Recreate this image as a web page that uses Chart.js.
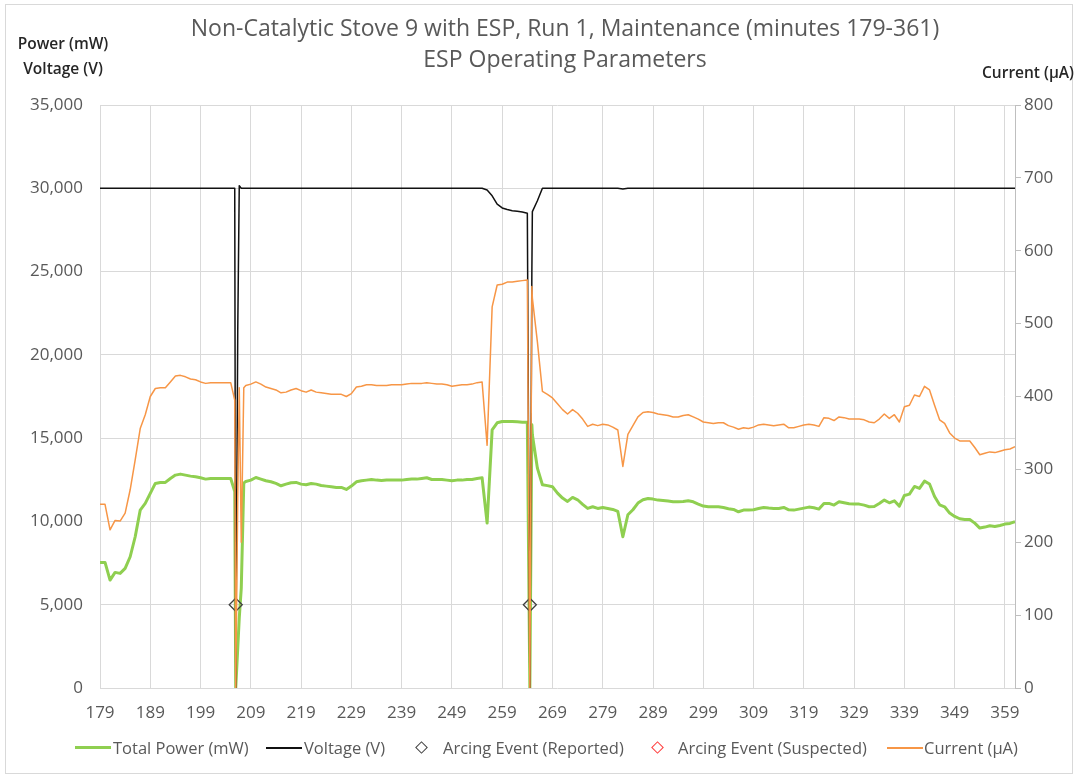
<!DOCTYPE html>
<html>
<head>
<meta charset="utf-8">
<script src="https://cdn.jsdelivr.net/npm/chart.js@4.4.0/dist/chart.umd.min.js"></script>
<style>
  body { margin: 0; background: #fff; font-family: 'Open Sans', sans-serif; }
  #wrap { position: relative; width: 1077px; height: 778px; overflow: hidden; }
  #frame { position: absolute; left: 5px; top: 4px; width: 1066px; height: 768px; border: 1px solid #d9d9d9; }
  canvas { position: absolute; left: 0; top: 0; }
  .t { position: absolute; white-space: nowrap; }
  .title { left: 165px; width: 800px; text-align: center; font-size: 23px; line-height: 28px; color: #595959; }
  .unit { font-size: 15.5px; line-height: 20px; font-weight: 600; color: #262626; }
  .leg { top: 737px; font-size: 16.5px; line-height: 22px; color: #595959; }
  .swatch { position: absolute; }
  .dia { position: absolute; width: 9px; height: 9px; transform: rotate(45deg); box-sizing: border-box; }
</style>
</head>
<body>
<div id="wrap">
  <div id="frame"></div>
  <canvas id="chart" width="1077" height="778"></canvas>
  <div class="t title" style="top:13px">Non-Catalytic Stove 9 with ESP, Run 1, Maintenance (minutes 179-361)</div>
  <div class="t title" style="top:44px">ESP Operating Parameters</div>
  <div class="t unit" style="left:3px;width:120px;text-align:center;top:33px">Power (mW)</div>
  <div class="t unit" style="left:3px;width:120px;text-align:center;top:58px">Voltage (V)</div>
  <div class="t unit" style="right:3px;top:62px">Current (µA)</div>

  <div class="swatch" style="left:75px;top:746px;width:36px;height:3px;background:#8fcf50"></div>
  <div class="t leg" style="left:113px">Total Power (mW)</div>
  <div class="swatch" style="left:266px;top:747px;width:36px;height:2px;background:#111"></div>
  <div class="t leg" style="left:304px">Voltage (V)</div>
  <div class="dia" style="left:417px;top:743px;border:1.3px solid #404040"></div>
  <div class="t leg" style="left:443px">Arcing Event (Reported)</div>
  <div class="dia" style="left:653px;top:743px;border:1.3px solid #ff3b3b"></div>
  <div class="t leg" style="left:678px">Arcing Event (Suspected)</div>
  <div class="swatch" style="left:887px;top:747px;width:36px;height:2px;background:#f79646"></div>
  <div class="t leg" style="left:924px">Current (µA)</div>
</div>
<script>
// minutes (sub-minute points only around the two arcing events)
const minutes = [
  179, 180, 181, 182, 183, 184, 185, 186, 187, 188,
  189, 190, 191, 192, 193, 194, 195, 196, 197, 198,
  199, 200, 201, 202, 203, 204, 205, 205.8, 206, 206.4, 206.7, 207.1, 207.6,
  208, 209, 210, 211, 212, 213, 214, 215, 216, 217,
  218, 219, 220, 221, 222, 223, 224, 225, 226, 227,
  228, 229, 230, 231, 232, 233, 234, 235, 236, 237,
  238, 239, 240, 241, 242, 243, 244, 245, 246, 247,
  248, 249, 250, 251, 252, 253, 254, 255, 256, 257,
  258, 259, 260, 261, 262, 263, 264, 264.5, 264.9,
  265, 266, 267, 268, 269, 270, 271, 272, 273, 274,
  275, 276, 277, 278, 279, 280, 281, 282, 283, 284,
  285, 286, 287, 288, 289, 290, 291, 292, 293, 294,
  295, 296, 297, 298, 299, 300, 301, 302, 303, 304,
  305, 306, 307, 308, 309, 310, 311, 312, 313, 314,
  315, 316, 317, 318, 319, 320, 321, 322, 323, 324,
  325, 326, 327, 328, 329, 330, 331, 332, 333, 334,
  335, 336, 337, 338, 339, 340, 341, 342, 343, 344,
  345, 346, 347, 348, 349, 350, 351, 352, 353, 354,
  355, 356, 357, 358, 359, 360, 361
];

const powerMw = [
  7540, 7540, 6480, 6940, 6880, 7180, 7880, 9080, 10680, 11080,
  11680, 12280, 12340, 12340, 12580, 12780, 12840, 12780, 12720, 12680,
  12620, 12540, 12580, 12580, 12580, 12580, 12580, 11800, 0, 2400, 4200, 6000, 12300,
  12400, 12480, 12640, 12540, 12440, 12380, 12280, 12140, 12240, 12320,
  12340, 12240, 12200, 12280, 12240, 12160, 12120, 12080, 12040, 12040,
  11920, 12120, 12380, 12440, 12480, 12520, 12480, 12460, 12480, 12480,
  12480, 12480, 12520, 12540, 12540, 12580, 12620, 12520, 12520, 12520,
  12480, 12440, 12480, 12480, 12520, 12520, 12580, 12620, 9900, 15500,
  15920, 16000, 16000, 16000, 15980, 15960, 15960, 0, 15800,
  15200, 13200, 12200, 12150, 12080, 11700, 11400, 11200, 11440, 11300,
  11020, 10780, 10880, 10780, 10840, 10780, 10720, 10600, 9080, 10400,
  10700, 11100, 11300, 11380, 11340, 11280, 11260, 11220, 11180, 11180,
  11200, 11240, 11180, 11040, 10920, 10880, 10880, 10880, 10840, 10760,
  10720, 10580, 10680, 10680, 10700, 10780, 10840, 10800, 10780, 10780,
  10840, 10700, 10680, 10740, 10800, 10860, 10820, 10740, 11080, 11080,
  10980, 11180, 11120, 11060, 11040, 11040, 10980, 10880, 10900, 11080,
  11280, 11120, 11240, 10920, 11560, 11640, 12100, 11980, 12420, 12250,
  11500, 11000, 10880, 10500, 10300, 10160, 10120, 10120, 9900, 9600,
  9660, 9740, 9700, 9760, 9840, 9880, 9980
];

const voltageV = [
  30000, 30000, 30000, 30000, 30000, 30000, 30000, 30000, 30000, 30000,
  30000, 30000, 30000, 30000, 30000, 30000, 30000, 30000, 30000, 30000,
  30000, 30000, 30000, 30000, 30000, 30000, 30000, 30000, 0, 21500, 30150, 30000, 30000,
  30000, 30000, 30000, 30000, 30000, 30000, 30000, 30000, 30000, 30000,
  30000, 30000, 30000, 30000, 30000, 30000, 30000, 30000, 30000, 30000,
  30000, 30000, 30000, 30000, 30000, 30000, 30000, 30000, 30000, 30000,
  30000, 30000, 30000, 30000, 30000, 30000, 30000, 30000, 30000, 30000,
  30000, 30000, 30000, 30000, 30000, 30000, 30000, 30000, 29900, 29550,
  29050, 28820, 28730, 28650, 28620, 28580, 28500, 0, 25000,
  28600, 29250, 30000, 30000, 30000, 30000, 30000, 30000, 30000, 30000,
  30000, 30000, 30000, 30000, 30000, 30000, 30000, 30000, 29960, 30000,
  30000, 30000, 30000, 30000, 30000, 30000, 30000, 30000, 30000, 30000,
  30000, 30000, 30000, 30000, 30000, 30000, 30000, 30000, 30000, 30000,
  30000, 30000, 30000, 30000, 30000, 30000, 30000, 30000, 30000, 30000,
  30000, 30000, 30000, 30000, 30000, 30000, 30000, 30000, 30000, 30000,
  30000, 30000, 30000, 30000, 30000, 30000, 30000, 30000, 30000, 30000,
  30000, 30000, 30000, 30000, 30000, 30000, 30000, 30000, 30000, 30000,
  30000, 30000, 30000, 30000, 30000, 30000, 30000, 30000, 30000, 30000,
  30000, 30000, 30000, 30000, 30000, 30000, 30000
];

const currentUA = [
  252, 252, 217, 230, 229, 240, 272, 313, 356, 375,
  400, 411, 412, 412, 420, 428, 429, 427, 424, 423,
  420, 418, 419, 419, 419, 419, 419, 395, 0, 260, 412, 200, 412,
  415, 417, 420, 417, 413, 411, 409, 405, 406, 409,
  411, 408, 406, 409, 406, 405, 404, 403, 403, 403,
  400, 404, 413, 414, 416, 416, 415, 415, 415, 416,
  416, 416, 417, 418, 418, 418, 419, 418, 417, 417,
  416, 414, 415, 416, 416, 417, 419, 420, 333, 523,
  553, 554, 557, 557, 558, 559, 560, 0, 551,
  535, 475, 407, 403, 398, 390, 382, 376, 382, 377,
  369, 359, 362, 360, 362, 361, 358, 354, 304, 348,
  360, 372, 378, 379, 378, 376, 375, 374, 372, 372,
  374, 375, 372, 369, 365, 364, 363, 364, 364, 360,
  358, 355, 357, 356, 358, 361, 362, 361, 360, 361,
  362, 357, 357, 359, 361, 362, 361, 359, 371, 370,
  367, 372, 371, 369, 369, 369, 368, 365, 364, 369,
  376, 370, 375, 365, 386, 388, 402, 400, 414, 409,
  388, 368, 363, 350, 343, 339, 339, 339, 330, 320,
  322, 324, 323, 325, 327, 328, 331
];

const arcReportedMinutes = [206, 264.5];
const arcReportedValues = [5000, 5000];
const arcSuspectedMinutes = [];
const arcSuspectedValues = [];

const xTicks = [179, 189, 199, 209, 219, 229, 239, 249, 259, 269, 279, 289, 299, 309, 319, 329, 339, 349, 359];

const pts = (xs, ys) => xs.map((m, i) => ({ x: m, y: ys[i] }));
const tickFont = { family: 'Open Sans', size: 17 };

var ctx = document.getElementById('chart').getContext('2d');
var myChart = new Chart(ctx, {
  type: 'line',
  data: {
    datasets: [
      {
        label: 'Total Power (mW)',
        data: pts(minutes, powerMw),
        yAxisID: 'y',
        borderColor: '#8fcf50',
        borderWidth: 3,
        borderJoinStyle: 'round',
        pointRadius: 0,
        order: 4
      },
      {
        label: 'Voltage (V)',
        data: pts(minutes, voltageV),
        yAxisID: 'y',
        borderColor: '#111111',
        borderWidth: 1.5,
        borderJoinStyle: 'round',
        pointRadius: 0,
        order: 3
      },
      {
        label: 'Arcing Event (Reported)',
        data: pts(arcReportedMinutes, arcReportedValues),
        yAxisID: 'y',
        showLine: false,
        pointStyle: 'rectRot',
        pointRadius: 6.5,
        pointBorderWidth: 1.3,
        pointBorderColor: '#404040',
        pointBackgroundColor: 'rgba(0,0,0,0)',
        order: 2
      },
      {
        label: 'Arcing Event (Suspected)',
        data: pts(arcSuspectedMinutes, arcSuspectedValues),
        yAxisID: 'y',
        showLine: false,
        pointStyle: 'rectRot',
        pointRadius: 6.5,
        pointBorderWidth: 1.3,
        pointBorderColor: '#ff3b3b',
        pointBackgroundColor: 'rgba(0,0,0,0)',
        order: 2
      },
      {
        label: 'Current (µA)',
        data: pts(minutes, currentUA),
        yAxisID: 'y1',
        borderColor: '#f79646',
        borderWidth: 1.5,
        borderJoinStyle: 'round',
        pointRadius: 0,
        order: 1
      }
    ]
  },
  options: {
    responsive: false,
    animation: false,
    devicePixelRatio: 1,
    layout: { padding: { top: 105, left: 0, right: 0, bottom: 0 } },
    plugins: {
      legend: { display: false },
      title: { display: false },
      tooltip: { enabled: false }
    },
    scales: {
      x: {
        type: 'linear',
        min: 179,
        max: 361,
        afterBuildTicks: axis => { axis.ticks = xTicks.map(v => ({ value: v })); },
        afterFit: axis => { axis.height = 90; },
        grid: { color: '#d9d9d9', drawTicks: false },
        border: { display: false },
        ticks: { autoSkip: false, maxRotation: 0, padding: 15, color: '#595959', font: tickFont }
      },
      y: {
        min: 0,
        max: 35000,
        afterFit: axis => { axis.width = 100; },
        grid: { color: '#d9d9d9', drawTicks: false },
        border: { display: false },
        ticks: {
          stepSize: 5000,
          padding: 17,
          color: '#595959',
          font: tickFont,
          callback: v => v.toLocaleString('en-US')
        }
      },
      y1: {
        position: 'right',
        min: 0,
        max: 800,
        afterFit: axis => { axis.width = 62; },
        grid: { drawOnChartArea: false, tickLength: 6, color: '#bfbfbf' },
        border: { color: '#bfbfbf' },
        ticks: { stepSize: 100, padding: 3, color: '#595959', font: tickFont }
      }
    }
  }
});
</script>
</body>
</html>
